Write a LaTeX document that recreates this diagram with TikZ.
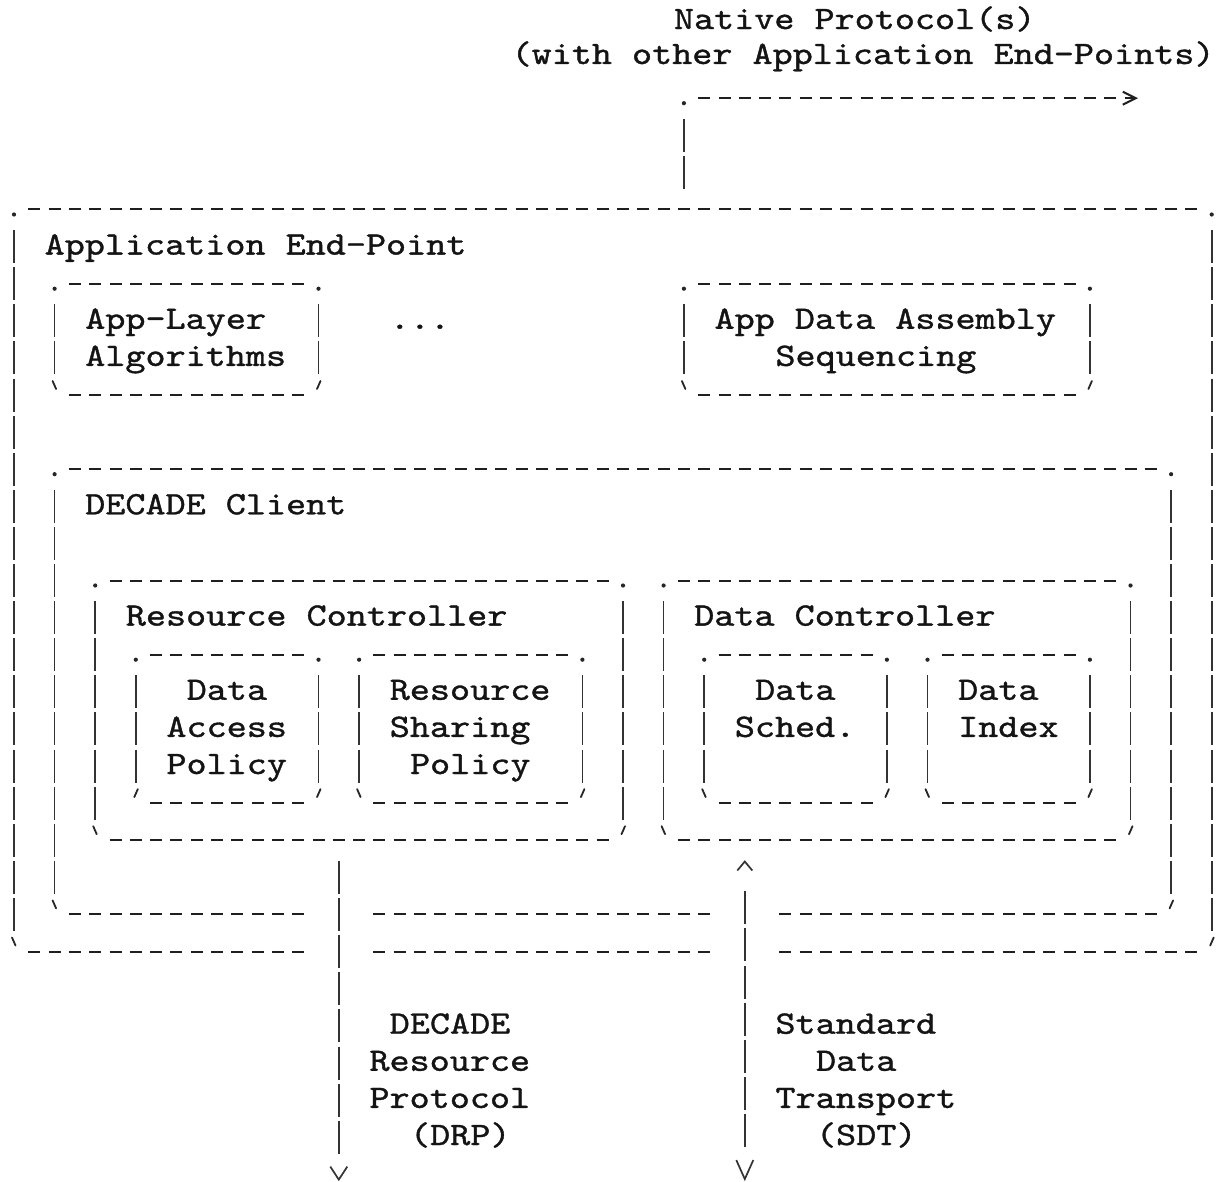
\documentclass[tikz,border=0pt]{standalone}
\usepackage{graphicx}
\usepackage{fontspec}
\newfontfamily\asciifont{lmmono10-regular.otf}[FakeBold=1.0]
\usetikzlibrary{arrows.meta,fit}
\tikzset{
  hdash/.style={draw=black!88, line width=2pt, dash pattern=on 12pt off 8.3pt},
  vbar/.style={draw=black!80, line width=1.7pt, dash pattern=on 33pt off 4.1pt},
  drpbar/.style={draw=black!80, line width=1.7pt,
    dash pattern=on 33pt off 4.1pt on 33pt off 4.1pt on 33pt off 4.1pt on 33pt off 4.1pt
                 on 33pt off 4.1pt on 33pt off 4.1pt on 33pt off 4.1pt on 33pt off 100pt},
  sdtbar/.style={draw=black!80, line width=1.7pt,
    dash pattern=on 0pt off 29pt on 33pt off 4.1pt on 33pt off 4.1pt on 33pt off 4.1pt
                 on 33pt off 4.1pt on 33pt off 4.1pt on 33pt off 4.1pt on 33pt off 100pt},
  tick/.style={draw=black!85, line width=1.8pt, line cap=round},
  cornerdot/.style={fill=black!85},
  boxarea/.style={inner sep=0pt, draw=none},
  txt/.style={inner sep=0pt, anchor=base west, yshift=-8pt, text=black!92,
    font=\asciifont\fontsize{32.7}{37.1}\selectfont},
}
% #1 name, #2 left col, #3 top row, #4 right col, #5 bottom row, #6 = 1 if bottom-left mark is a quote
\newcommand\asciibox[6]{%
  \coordinate (#1-nw) at (#2,#3);
  \coordinate (#1-se) at (#4,#5);
  \node[boxarea, fit=(#1-nw)(#1-se)] (#1) {};
  \draw[hdash] (#2+0.7044,#3) -- (#4-0.7044,#3);
  \draw[hdash] (#2+0.7044,#5) -- (#4-0.7044,#5);
  \draw[vbar] (#2,#3+0.5553) -- (#2,#5-0.5553);
  \draw[vbar] (#4,#3+0.5553) -- (#4,#5-0.5553);
  \fill[cornerdot] (#2,#3) ++(0pt,-5pt) circle[radius=2.1pt];
  \fill[cornerdot] (#4,#3) ++(0pt,-5pt) circle[radius=2.1pt];
  \draw[tick] (#4,#5) ++(2pt,14pt) -- ++(-3.5pt,-8pt);
  \ifnum#6=1 \draw[tick] (#2,#5) ++(2pt,14pt) -- ++(-3.5pt,-8pt);
  \else \draw[tick] (#2,#5) ++(-2pt,14pt) -- ++(3.5pt,-8pt);\fi
}
\newcommand\tline[4]{\node[txt] (#1) at (#2-0.5,#3) {\scalebox{1.17}[1]{#4}};}
\begin{document}
\begin{tikzpicture}[x=20.3pt,y=-37.1pt]
\fill[white] (-0.6897,-0.6469) rectangle (59.2118,31.2129);
\useasboundingbox (-0.6897,-0.6469) rectangle (59.2118,31.2129);

% boxes
\asciibox{AEP}{0}{5}{59}{25}{0}
\asciibox{ALA}{2}{7}{15}{10}{0}
\asciibox{ADA}{33}{7}{53}{10}{0}
\asciibox{DCL}{2}{12}{57}{24}{0}
\asciibox{RC}{4}{15}{30}{22}{0}
\asciibox{DAP}{6}{17}{15}{21}{1}
\asciibox{RSP}{17}{17}{28}{21}{0}
\asciibox{DC}{32}{15}{55}{22}{0}
\asciibox{DS}{34}{17}{43}{21}{0}
\asciibox{DI}{45}{17}{53}{21}{0}

% gaps in the bottom lines where the protocols leave
\fill[white] (14.5,23.5) rectangle (17.5,25.5);
\fill[white] (34.5,23.5) rectangle (37.5,25.5);

% native protocol connector
\coordinate (natC) at (33,2.5553);
\coordinate (natH) at (33.7044,2);
\coordinate (natE) at (55.37,2);
\draw[vbar, shorten <=20.6pt] (AEP.north -| natC) -- (natC);
\fill[cornerdot] (33,2) ++(0pt,-5pt) circle[radius=2.1pt];
\draw[hdash, -{Straight Barb[length=13pt,width=13pt]}] (natH) -- (natE);

% DRP connector
\coordinate (drpX) at (16,0);
\coordinate (drpE) at (16,31.19);
\draw[drpbar, shorten <=20.6pt, -{Straight Barb[length=13pt,width=17pt]}] (RC.south -| drpX) -- (drpE);

% SDT connector
\coordinate (sdtX) at (36,0);
\coordinate (sdtE) at (36,31.19);
\draw[sdtbar, shorten <=19.8pt, {Straight Barb[length=9pt,width=15pt]}-{Straight Barb[length=19pt,width=17pt]}] (DC.south -| sdtX) -- (sdtE);

% texts
\tline{t-native}{33}{-0.08}{Native Protocol(s)}
\tline{t-with}{25}{0.8625}{(with other Application End-Points)}
\tline{t-aep}{2}{6}{Application End-Point}
\tline{t-ala1}{4}{8}{App-Layer}
\tline{t-ala2}{4}{9}{Algorithms}
\tline{t-dots}{19}{8}{...}
\tline{t-ada1}{35}{8}{App Data Assembly}
\tline{t-ada2}{38}{9}{Sequencing}
\tline{t-dcl}{4}{13}{DECADE Client}
\tline{t-rc}{6}{16}{Resource Controller}
\tline{t-dap1}{9}{18}{Data}
\tline{t-dap2}{8}{19}{Access}
\tline{t-dap3}{8}{20}{Policy}
\tline{t-rsp1}{19}{18}{Resource}
\tline{t-rsp2}{19}{19}{Sharing}
\tline{t-rsp3}{20}{20}{Policy}
\tline{t-dc}{34}{16}{Data Controller}
\tline{t-ds1}{37}{18}{Data}
\tline{t-ds2}{36}{19}{Sched.}
\tline{t-di1}{47}{18}{Data}
\tline{t-di2}{47}{19}{Index}
\tline{t-drp1}{19}{27}{DECADE}
\tline{t-drp2}{18}{28}{Resource}
\tline{t-drp3}{18}{29}{Protocol}
\tline{t-drp4}{20}{30}{(DRP)}
\tline{t-sdt1}{38}{27}{Standard}
\tline{t-sdt2}{40}{28}{Data}
\tline{t-sdt3}{38}{29}{Transport}
\tline{t-sdt4}{40}{30}{(SDT)}
\end{tikzpicture}
\end{document}
